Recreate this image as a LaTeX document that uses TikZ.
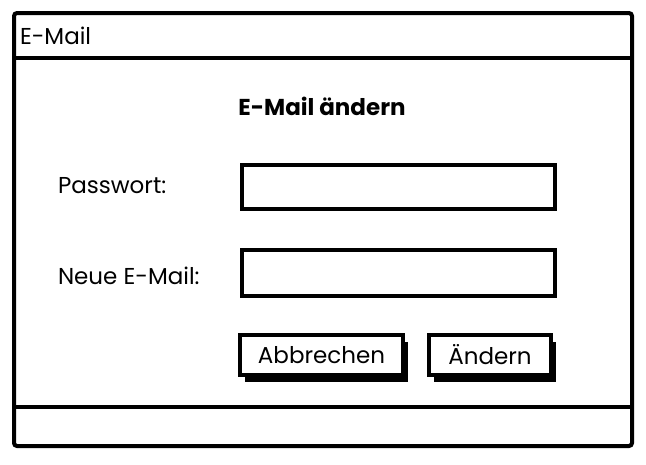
\documentclass[tikz,border=0pt]{standalone}
\usepackage{fontspec}
\setmainfont{Poppins}
\usepackage{tikz}
\usetikzlibrary{shadows}

\begin{document}
\begin{tikzpicture}[x=1pt,y=-1pt,line width=4pt,
		field/.style={draw,fill=white,minimum width=313pt,minimum height=44pt,inner sep=0pt},
		button/.style={draw,fill=white,minimum height=40pt,inner sep=0pt,font=\fontsize{23}{26}\selectfont,
			general shadow={fill=black,shadow xshift=5pt,shadow yshift=-7pt}},
		label/.style={anchor=west,inner sep=0pt,font=\fontsize{23}{26}\selectfont}]
	% Define window parameters
	\def\wl{14}      %Left edge of window.
	\def\wr{632}     %Right edge of window.
	\def\wt{13}      %Top edge of window.
	\def\wb{446}     %Bottom edge of window.
	\def\tbar{58}    %Line under title bar.
	\def\sbar{407}   %Line over status bar.
	
	\useasboundingbox (0,0) rectangle (646,464);
	
	% Window frame with title bar and status bar.
	\draw[rounded corners=3pt] (\wl,\wt) rectangle (\wr,\wb);
	\draw (\wl,\tbar) -- (\wr,\tbar);
	\draw (\wl,\sbar) -- (\wr,\sbar);
	\node[label] (title) at (18,36) {E-Mail};
	
	% Heading
	\node[font=\fontsize{23}{26}\selectfont\bfseries,inner sep=0pt] (head) at (322,106) {E-Mail ändern};
	
	% Labels and text fields
	\node[label] (lpw) at (56,186) {Passwort:};
	\node[label] (lmail) at (56,276) {Neue E-Mail:};
	\node[field] (fpw) at (398.5,186.5) {};
	\node[field,minimum height=46pt] (fmail) at (398.5,272.5) {};
	
	% Buttons
	\node[button,minimum width=163pt] (cancel) at (321.5,355) {Abbrechen};
	\node[button,minimum width=122pt] (change) at (490,355) {Ändern};
\end{tikzpicture}
\end{document}
